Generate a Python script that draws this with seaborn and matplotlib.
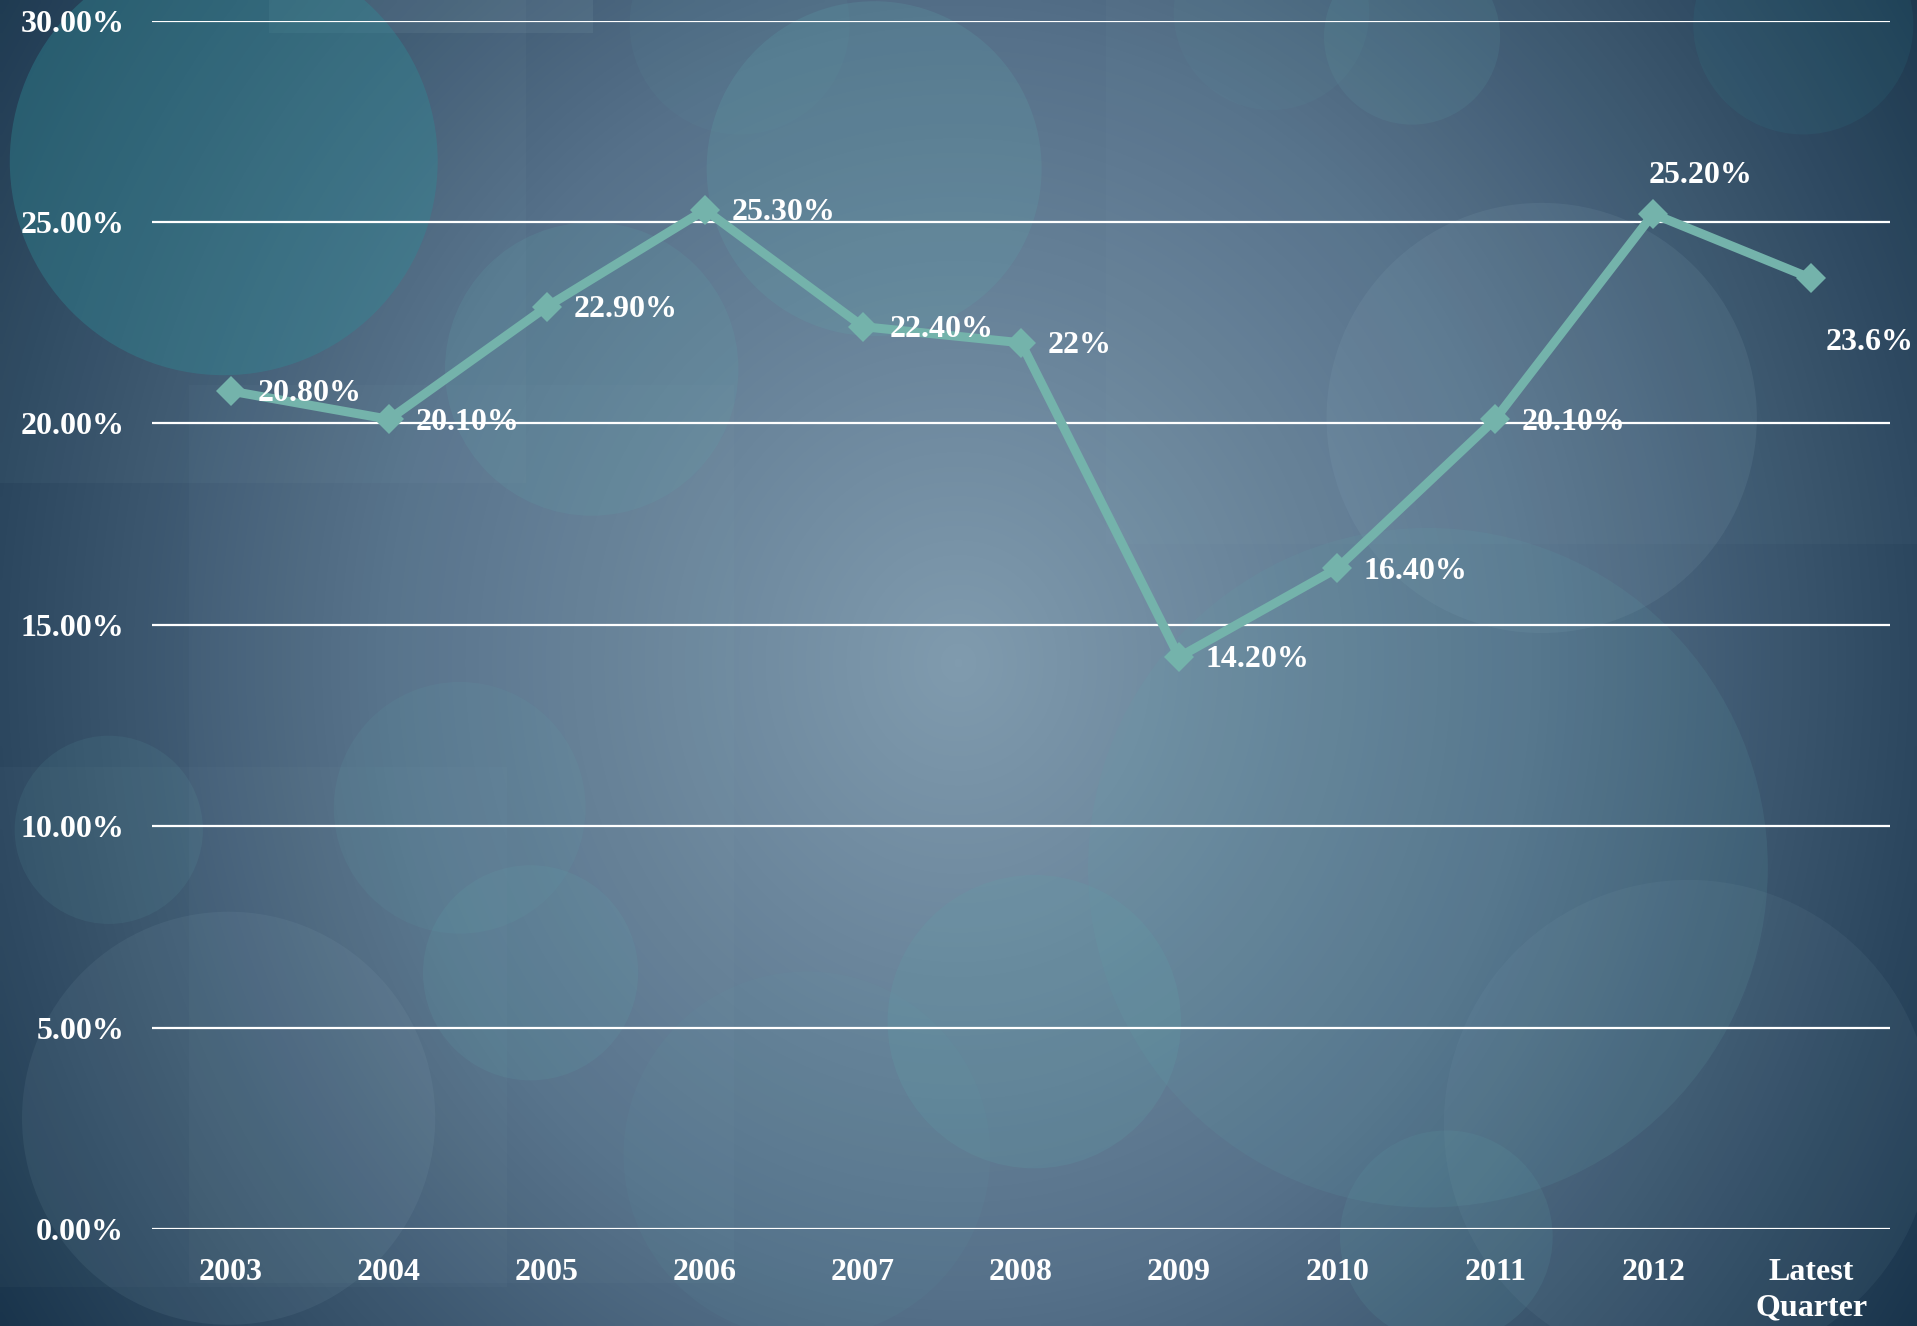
import numpy as np
import pandas as pd
import matplotlib
matplotlib.use("Agg")
import matplotlib.pyplot as plt
from matplotlib.colors import LinearSegmentedColormap
from matplotlib.patches import Circle, Rectangle
import seaborn as sns

periods = ["2003", "2004", "2005", "2006", "2007", "2008", "2009", "2010",
           "2011", "2012", "Latest\nQuarter"]
rates = [20.8, 20.1, 22.9, 25.3, 22.4, 22.0, 14.2, 16.4, 20.1, 25.2, 23.6]
point_labels = ["20.80%", "20.10%", "22.90%", "25.30%", "22.40%", "22%",
                "14.20%", "16.40%", "20.10%", "25.20%", "23.6%"]
y_ticks = [0, 5, 10, 15, 20, 25, 30]

LINE_COLOR = "#74b3ab"
FONT = "Liberation Serif"
FS = 23

# decorative bubbles: (x, y, radius, colour, alpha) in a 1568x1085 canvas
bubbles = [
    (183, 132, 175, "#2f8a96", 0.40), (715, 138, 137, "#5fa3aa", 0.22),
    (484, 302, 120, "#5fa3aa", 0.18), (1261, 342, 176, "#8fb0c0", 0.12),
    (1168, 710, 278, "#5fa3aa", 0.14), (376, 661, 103, "#5fa3aa", 0.12),
    (89, 679, 77, "#5fa3aa", 0.12), (434, 796, 88, "#5fa3aa", 0.16),
    (187, 915, 169, "#8fb0c0", 0.10), (846, 836, 120, "#5fa3aa", 0.20),
    (1381, 920, 200, "#8fb0c0", 0.08), (1183, 1012, 87, "#5fa3aa", 0.14),
    (660, 945, 150, "#5fa3aa", 0.08), (1155, 30, 72, "#5fa3aa", 0.14),
    (1040, 10, 80, "#5fa3aa", 0.08), (605, 20, 90, "#5fa3aa", 0.08),
    (1475, 20, 90, "#2f8a96", 0.12),
]
# faint panels: (x, y, width, height, alpha)
panels = [
    (220, 0, 265, 27, 0.10), (0, 0, 430, 395, 0.05), (155, 315, 445, 735, 0.04),
    (0, 628, 415, 425, 0.04), (905, 0, 663, 445, 0.04),
]


def main():
    sns.set_theme(style="white")
    plt.rcParams["font.family"] = [FONT, "DejaVu Serif"]
    plt.rcParams["font.weight"] = "bold"

    fig = plt.figure(figsize=(19.17, 13.26), dpi=100)

    # background gradient + bubbles
    bg = fig.add_axes([0, 0, 1, 1], zorder=0)
    W, H = 1568, 1085
    xx, yy = np.meshgrid(np.linspace(0, 1, 400), np.linspace(0, 1, 300))
    dist = np.sqrt(((xx - 0.5) / 0.6) ** 2 + ((yy - 0.5) / 0.95) ** 2)
    cmap = LinearSegmentedColormap.from_list("bg", ["#809bae", "#56718a", "#18334a"])
    bg.imshow(np.clip(dist, 0, 1), cmap=cmap, extent=[0, W, H, 0], aspect="auto",
              interpolation="bilinear", vmin=0, vmax=1)
    for px, py, pw, ph, a in panels:
        bg.add_patch(Rectangle((px, py), pw, ph, facecolor="#9fc0c8", edgecolor="none", alpha=a))
    for cx, cy, r, c, a in bubbles:
        bg.add_patch(Circle((cx, cy), r, facecolor=c, edgecolor="none", alpha=a))
    bg.set_xlim(0, W)
    bg.set_ylim(H, 0)
    bg.axis("off")

    ax = fig.add_axes([0.0793, 0.0732, 0.9067, 0.9113], zorder=1)
    ax.patch.set_alpha(0)

    df = pd.DataFrame({"period": periods, "rate": rates})
    sns.lineplot(data=df, x="period", y="rate", sort=False, ax=ax,
                 color=LINE_COLOR, linewidth=6.5, marker="D", markersize=15,
                 markeredgewidth=0, zorder=3)

    offsets = {9: (34, 17, "center", "bottom"), 10: (42, -46, "center", "center")}
    for i, (v, lab) in enumerate(zip(rates, point_labels)):
        dx, dy, ha, va = offsets.get(i, (19, -2, "left", "center"))
        ax.annotate(lab, (i, v), xytext=(dx, dy), textcoords="offset points",
                    ha=ha, va=va, color="white", fontsize=FS, fontweight="bold",
                    zorder=4)

    ax.set_xlim(-0.5, len(periods) - 0.5)
    ax.set_ylim(0, 30)
    ax.set_yticks(y_ticks)
    ax.set_yticklabels([f"{t:.2f}%" for t in y_ticks])
    ax.grid(axis="y", color="white", linewidth=1.6)
    ax.grid(axis="x", visible=False)
    ax.set_axisbelow(True)
    for s in ax.spines.values():
        s.set_visible(False)
    ax.tick_params(axis="y", length=0, pad=20, labelsize=FS, labelcolor="white")
    ax.tick_params(axis="x", length=0, pad=21, labelsize=FS, labelcolor="white")
    for t in ax.get_xticklabels() + ax.get_yticklabels():
        t.set_fontweight("bold")
    for t in ax.get_xticklabels():
        t.set_va("top")
        t.set_linespacing(1.3)
    ax.set_xlabel("")
    ax.set_ylabel("")

    fig.savefig("out.png", dpi=100)


if __name__ == "__main__":
    main()
